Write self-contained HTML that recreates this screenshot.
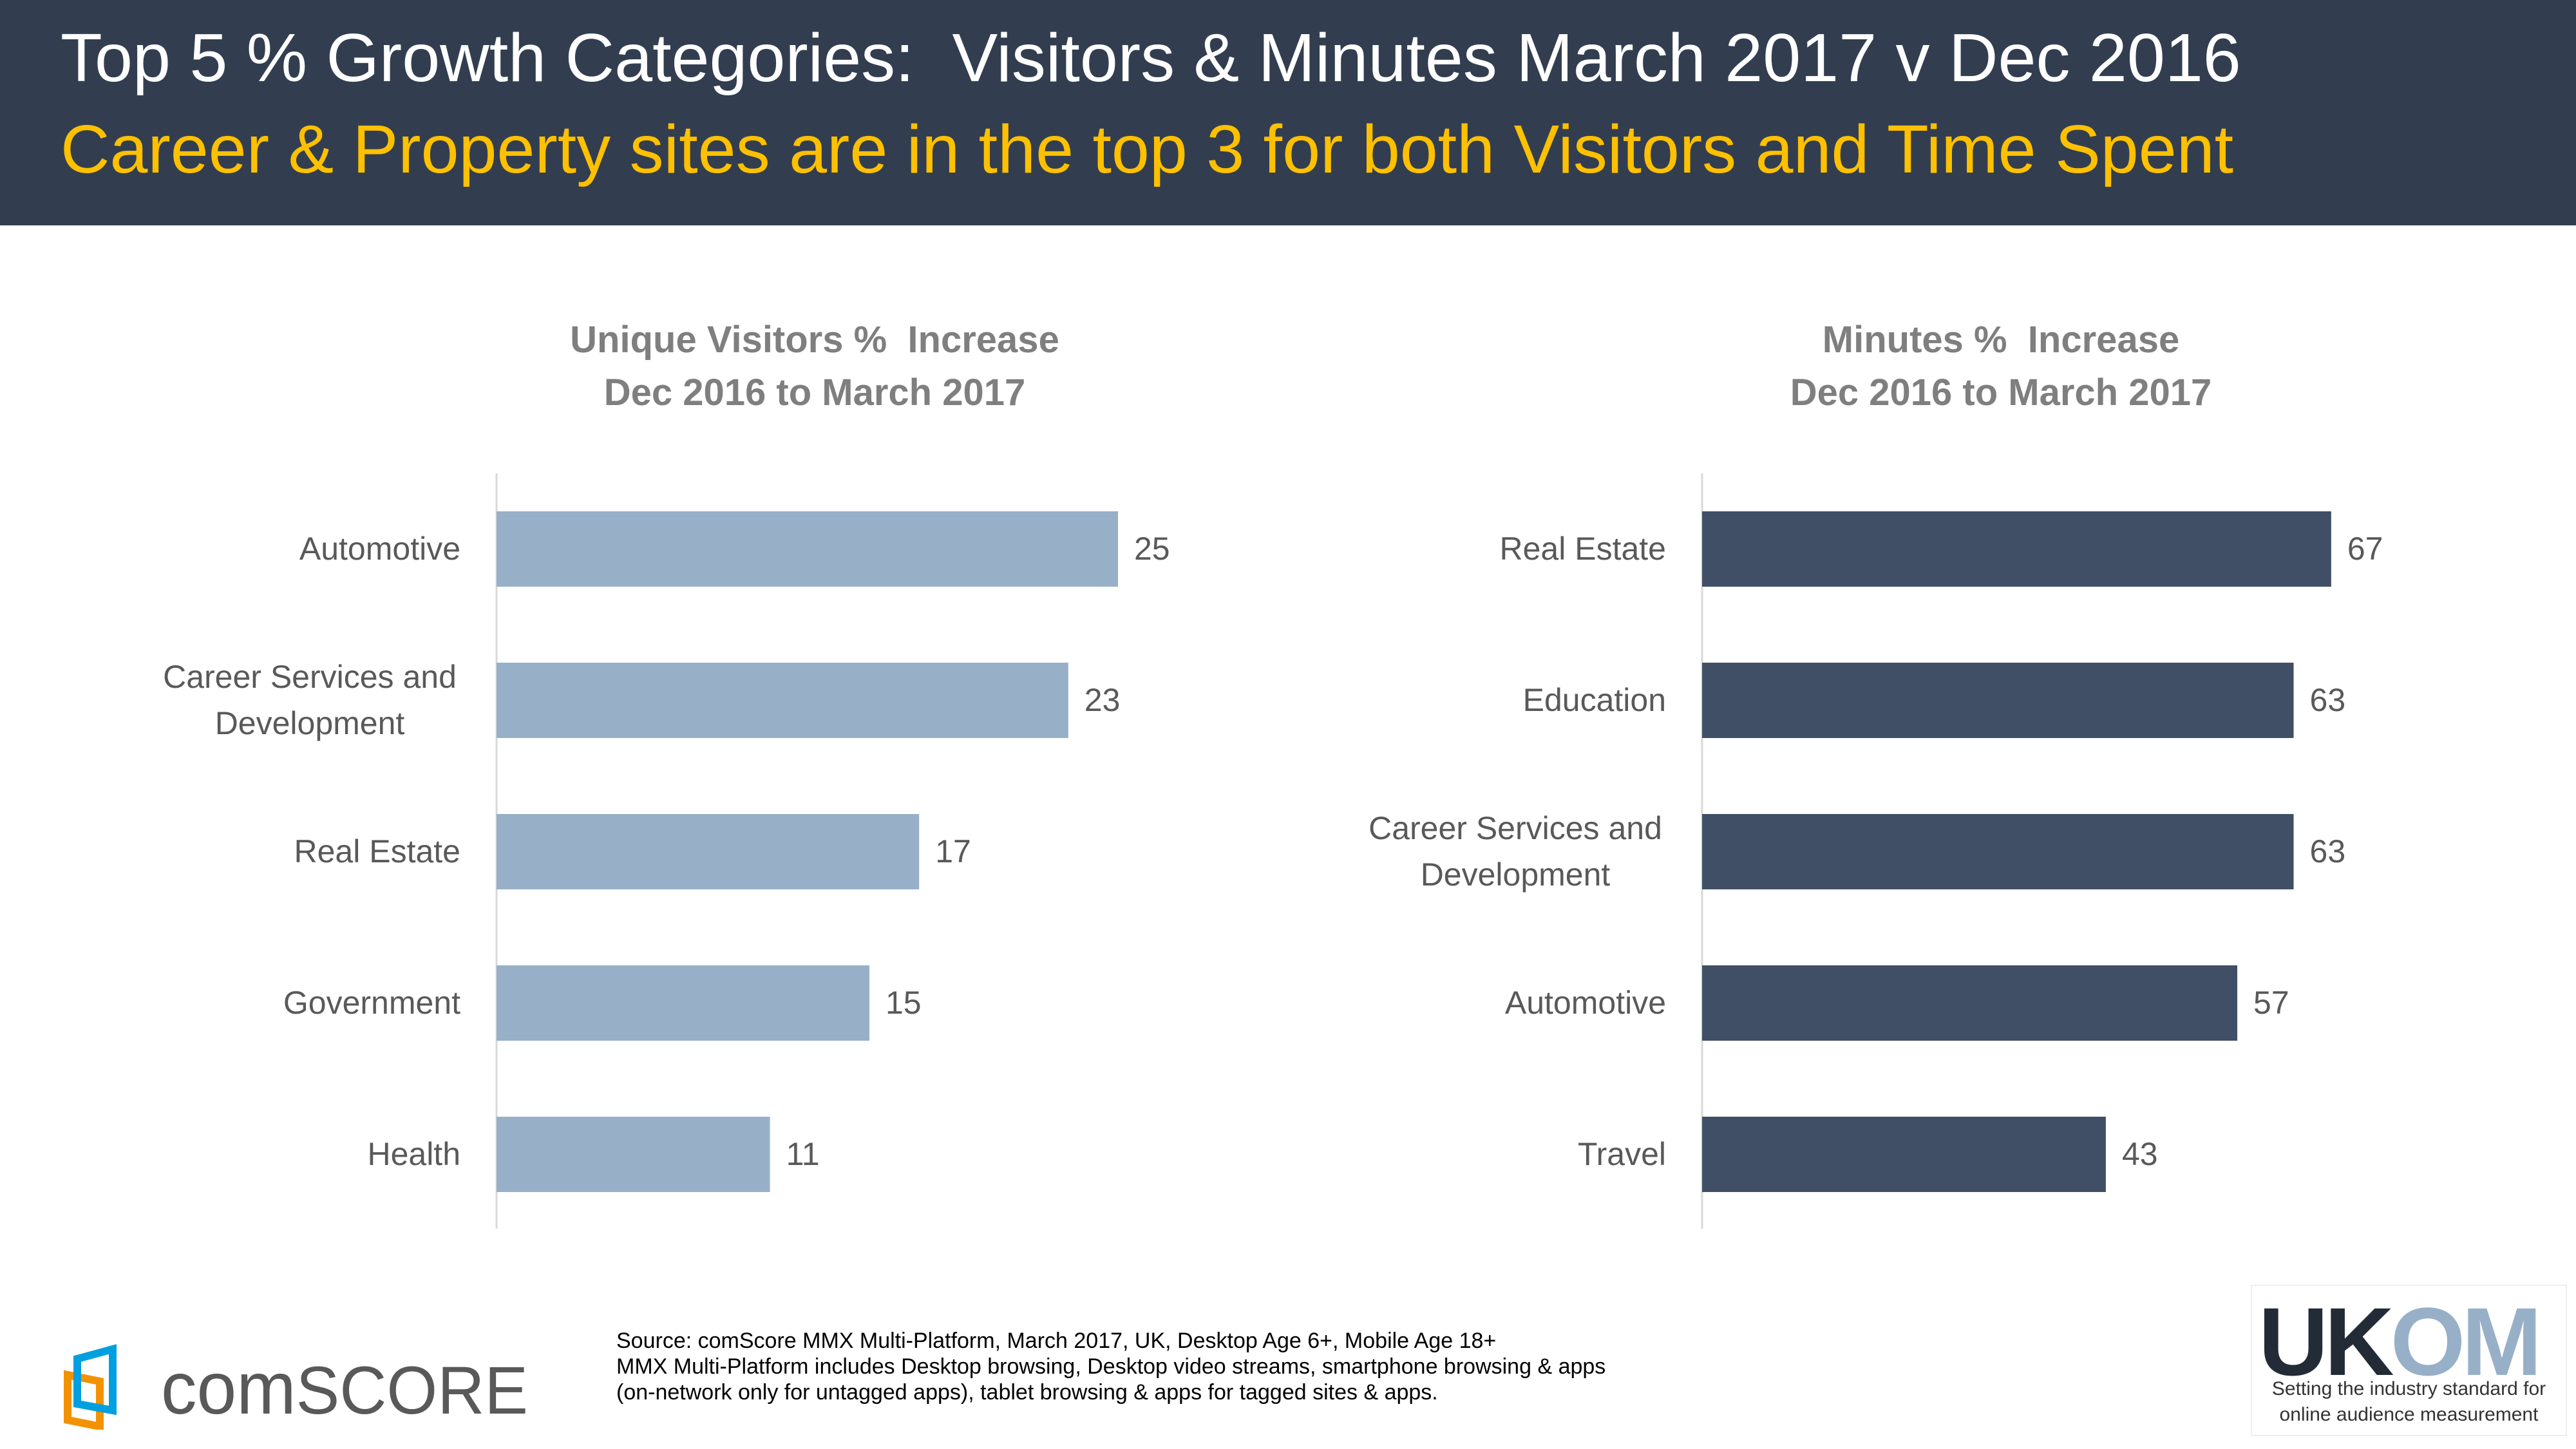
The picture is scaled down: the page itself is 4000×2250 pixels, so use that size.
<!DOCTYPE html>
<html><head><meta charset="utf-8"><style>
body{margin:0;width:4000px;height:2250px;background:#fff;overflow:hidden;font-family:"Liberation Sans",sans-serif;position:relative}
.hdr{position:absolute;left:0;top:0;width:4000px;height:350px;background:#323e50}
.t1{position:absolute;left:94px;top:30px;font-size:106px;color:#fff;white-space:nowrap}
.t2{position:absolute;left:94px;top:172px;font-size:106px;color:#ffc000;white-space:nowrap}
.ct{position:absolute;font-size:58px;font-weight:bold;color:#7f7f7f;text-align:center;line-height:82px;width:1200px}
.src{position:absolute;left:957px;top:2062px;font-size:34px;line-height:40px;color:#000}
</style></head><body>
<div class="hdr">
<div class="t1">Top 5 % Growth Categories:&nbsp; Visitors &amp; Minutes March 2017 v Dec 2016</div>
<div class="t2">Career &amp; Property sites are in the top 3 for both Visitors and Time Spent</div>
</div>
<div class="ct" style="left:665px;top:487px">Unique Visitors %&nbsp; Increase<br>Dec 2016 to March 2017</div>
<div class="ct" style="left:2507px;top:487px">Minutes %&nbsp; Increase<br>Dec 2016 to March 2017</div>
<svg id="ch" width="4000" height="2250" style="position:absolute;left:0;top:0"></svg>
<div class="src">Source: comScore MMX Multi-Platform, March 2017, UK, Desktop Age 6+, Mobile Age 18+<br>MMX Multi-Platform includes Desktop browsing, Desktop video streams, smartphone browsing &amp; apps<br>(on-network only for untagged apps), tablet browsing &amp; apps for tagged sites &amp; apps.</div>
<svg style="position:absolute;left:95px;top:2080px" width="760" height="140">
<path d="M10 55 L10 125 L60 135 L60 65 Z" fill="none" stroke="#f39200" stroke-width="12"/>
<path d="M25 30 L25 100 L80 110 L80 15 Z" fill="none" stroke="#00a0e0" stroke-width="12"/>
<text x="155" y="115" font-family="Liberation Sans,sans-serif" font-size="115" fill="#595959" textLength="570" lengthAdjust="spacingAndGlyphs">com<tspan font-size="105">SCORE</tspan></text>
</svg>
<div style="position:absolute;left:3495px;top:1995px;width:491px;height:235px;border:2px solid #eee;box-sizing:border-box">
<div style="position:absolute;left:10px;top:0px;font-size:150px;font-weight:bold;letter-spacing:-6px;color:#222b36">UK<span style="color:#97b0c8">OM</span></div>
<div style="position:absolute;left:0;width:100%;top:140px;text-align:center;font-size:30px;line-height:40px;color:#333">Setting the industry standard for<br>online audience measurement</div>
</div>
<script>
const visitorCats=["Automotive","Career Services and|Development","Real Estate","Government","Health"];
const visitorVals=[25,23,17,15,11];
const minuteCats=["Real Estate","Education","Career Services and|Development","Automotive","Travel"];
const minuteVals=[67,63,63,57,43];
const NS="http://www.w3.org/2000/svg";
const svg=document.getElementById('ch');
function mk(t,a){const e=document.createElementNS(NS,t);for(const k in a)e.setAttribute(k,a[k]);svg.appendChild(e);return e;}
function draw(cats,vals,x0,ppu,color,tag){
  const y=i=>794+i*235;
  const ax=mk('line',{x1:x0,x2:x0,y1:735,y2:1908,stroke:'#d9d9d9','stroke-width':3});
  
  
  cats.forEach((c,i)=>{
    const w=vals[i]*ppu;
    const r=mk('rect',{x:x0,y:y(i),width:w,height:117,fill:color});
    
    
    const v=mk('text',{x:x0+w+25,y:y(i)+75,'font-size':50,fill:'#595959'});
    v.textContent=vals[i];
    
    
    const parts=c.split('|');
    parts.forEach((p,j)=>{
      const multi=parts.length>1;
      const t=mk('text',{x:multi?x0-290:x0-56,y:y(i)+75+(j-(parts.length-1)/2)*72,'font-size':50,fill:'#595959','text-anchor':multi?'middle':'end'});
      t.textContent=p;
      
      
    });
  });
}
draw(visitorCats,visitorVals,771,38.6,'#97b0c8','visitors');
draw(minuteCats,minuteVals,2643,14.58,'#404f66','minutes');
</script>
</body></html>
